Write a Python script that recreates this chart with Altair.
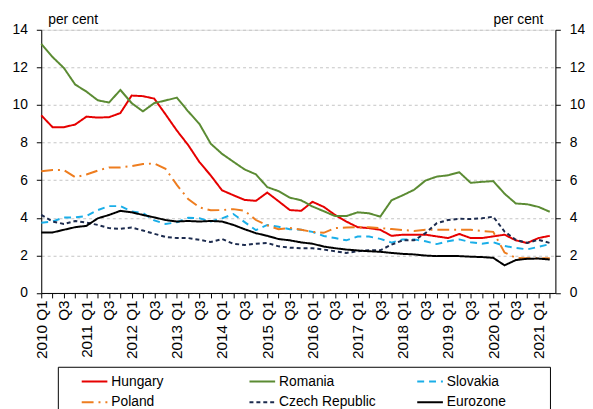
import json
import altair as alt
import pandas as pd

quarters = [f"{y} Q{q}" for y in range(2010, 2022) for q in range(1, 5)][:46]

tick_labels = ["2010 Q1", "Q3", "2011 Q1", "Q3", "2012 Q1", "Q3", "2013 Q1", "Q3",
               "2014 Q1", "Q3", "2015 Q1", "Q3", "2016 Q1", "Q3", "2017 Q1", "Q3",
               "2018 Q1", "Q3", "2019 Q1", "Q3", "2020 Q1", "Q3", "2021 Q1"]

hungary = [9.45, 8.82, 8.82, 8.96, 9.38, 9.33, 9.35, 9.57, 10.5, 10.47, 10.34, 9.5,
           8.64, 7.87, 6.96, 6.25, 5.46, 5.2, 4.95, 4.9, 5.34, 4.88, 4.41, 4.37,
           4.85, 4.58, 4.15, 3.8, 3.5, 3.45, 3.36, 3.04, 3.1, 3.1, 3.1, 3.01,
           2.92, 3.14, 2.92, 2.92, 3.01, 3.1, 2.8, 2.66, 2.92, 3.04]
romania = [13.25, 12.55, 11.97, 11.09, 10.71, 10.25, 10.13, 10.8, 10.1, 9.66, 10.1, 10.24,
           10.39, 9.66, 8.99, 7.94, 7.4, 6.98, 6.57, 6.31, 5.63, 5.42, 5.07, 4.93,
           4.6, 4.35, 4.09, 4.09, 4.29, 4.24, 4.06, 4.93, 5.2, 5.49, 5.98, 6.19,
           6.26, 6.42, 5.86, 5.91, 5.95, 5.28, 4.76, 4.72, 4.58, 4.32]
slovakia = [3.74, 3.8, 4.02, 4.02, 4.09, 4.41, 4.62, 4.62, 4.34, 4.25, 3.86, 3.67,
            3.76, 4.0, 3.97, 3.8, 3.97, 4.2, 3.77, 3.34, 3.62, 3.52, 3.39, 3.36,
            3.25, 3.03, 2.92, 2.8, 3.0, 3.0, 2.88, 2.68, 2.85, 2.85, 2.75, 2.6,
            2.75, 2.85, 2.7, 2.62, 2.7, 2.5, 2.4, 2.32, 2.45, 2.6]
poland = [6.47, 6.54, 6.54, 6.16, 6.3, 6.51, 6.68, 6.68, 6.75, 6.86, 6.89, 6.6,
          5.75, 5.0, 4.55, 4.4, 4.41, 4.46, 4.37, 3.88, 3.6, 3.39, 3.46, 3.36,
          3.25, 3.2, 3.45, 3.48, 3.5, 3.5, 3.45, 3.4, 3.35, 3.3, 3.36, 3.36,
          3.36, 3.36, 3.36, 3.3, 3.25, 2.15, 1.87, 1.85, 1.85, 1.85]
czech = [4.15, 3.8, 3.67, 3.83, 3.74, 3.62, 3.45, 3.41, 3.48, 3.32, 3.15, 2.98,
         2.92, 2.92, 2.83, 2.71, 2.87, 2.62, 2.55, 2.62, 2.66, 2.48, 2.41, 2.38,
         2.38, 2.31, 2.22, 2.13, 2.22, 2.27, 2.27, 2.57, 2.8, 2.8, 3.18, 3.71,
         3.88, 3.95, 3.93, 3.97, 4.06, 3.27, 2.83, 2.66, 2.83, 2.66]
eurozone = [3.22, 3.22, 3.36, 3.5, 3.57, 3.97, 4.15, 4.37, 4.29, 4.15, 4.02, 3.88,
            3.8, 3.83, 3.8, 3.83, 3.8, 3.62, 3.39, 3.18, 3.04, 2.87, 2.8, 2.69,
            2.62, 2.47, 2.38, 2.31, 2.26, 2.22, 2.19, 2.13, 2.08, 2.05, 1.99, 1.96,
            1.97, 1.96, 1.93, 1.91, 1.87, 1.47, 1.75, 1.82, 1.83, 1.78]

series_names = ["Hungary", "Romania", "Slovakia", "Poland", "Czech Republic", "Eurozone"]
series_values = [hungary, romania, slovakia, poland, czech, eurozone]
colors = ["#e60000", "#5b8b33", "#1aaee8", "#ee7d1f", "#1c2b4e", "#000000"]
dashes = [[1, 0], [1, 0], [7, 5], [12, 5, 2, 5], [4, 3], [1, 0]]

rows = []
for name, vals in zip(series_names, series_values):
    for i, v in enumerate(vals):
        rows.append({"idx": i, "quarter": quarters[i], "series": name, "value": v})
df = pd.DataFrame(rows)

label_arr = []
for i in range(46):
    label_arr.append(tick_labels[i // 2] if i % 2 == 0 and i // 2 < len(tick_labels) else "")
label_expr = json.dumps(label_arr) + "[datum.value]"

FONT = "Liberation Sans"

x_enc = alt.X("idx:Q",
              scale=alt.Scale(domain=[0, 45.5], nice=False, zero=False),
              axis=alt.Axis(values=list(range(46)), labelExpr=label_expr, labelAngle=-90,
                            title=None, grid=False, tickSize=5, labelPadding=2,
                            labelOverlap=False, labelFlush=False, domainColor="black",
                            tickColor="black", labelFontSize=15.5, labelColor="black",
                            labelFont=FONT))

y_scale = alt.Scale(domain=[0, 14], nice=False, zero=True)
y_vals = [0, 2, 4, 6, 8, 10, 12, 14]

leg = alt.Legend(title=None, orient="none", legendX=40, legendY=342.5, columns=3,
                 direction="horizontal",
                 gridAlign="all", columnPadding=37, rowPadding=-5,
                 symbolType="stroke", symbolSize=676, symbolStrokeWidth=2,
                 labelFontSize=14, labelFont=FONT, labelColor="black", labelOffset=3,
                 padding=0)

lines = alt.Chart(df).mark_line(strokeWidth=2).encode(
    x=x_enc,
    y=alt.Y("value:Q", scale=y_scale,
            axis=alt.Axis(values=y_vals, title="per cent", titleAngle=0, titleX=6.6,
                          titleY=-6, titleAlign="left", titleBaseline="alphabetic",
                          titleFontSize=14, titleFontWeight="normal", titleFont=FONT,
                          titleColor="black", grid=True, gridDash=[3, 3],
                          gridColor="#c4c4c4", tickSize=5, labelPadding=9,
                          labelFontSize=14, labelFont=FONT, labelColor="black",
                          domainColor="black", tickColor="black")),
    color=alt.Color("series:N", scale=alt.Scale(domain=series_names, range=colors), legend=leg),
    strokeDash=alt.StrokeDash("series:N", scale=alt.Scale(domain=series_names, range=dashes),
                              legend=leg),
)

right = alt.Chart(df).mark_line(strokeWidth=2, strokeOpacity=0).encode(
    x=x_enc,
    y=alt.Y("value:Q", scale=y_scale,
            axis=alt.Axis(orient="right", values=y_vals, title="per cent", titleAngle=0,
                          titleX=-12.7, titleY=-6, titleAlign="right",
                          titleBaseline="alphabetic", titleFontSize=14,
                          titleFontWeight="normal", titleFont=FONT, titleColor="black",
                          grid=False, tickSize=5, labelPadding=9, labelFontSize=14,
                          labelFont=FONT, labelColor="black", domainColor="black",
                          tickColor="black")),
    detail="series:N",
)

frame = alt.Chart(pd.DataFrame({"a": [0]})).mark_rect(
    fill=None, stroke="black", strokeWidth=1
).encode(
    x=alt.value(17.3), x2=alt.value(516), y=alt.value(342), y2=alt.value(400)
)

chart = alt.layer(frame, lines, right).resolve_scale(y="independent").properties(
    width=521, height=266.7,
    padding={"left": 33.7, "top": 19.3, "right": 30, "bottom": 130},
    autosize=alt.AutoSizeParams(type="none"),
).configure_view(stroke="black", strokeWidth=1).configure(font=FONT, background="white")

chart.save("out.html", embed_options={"renderer": "svg", "actions": False})
